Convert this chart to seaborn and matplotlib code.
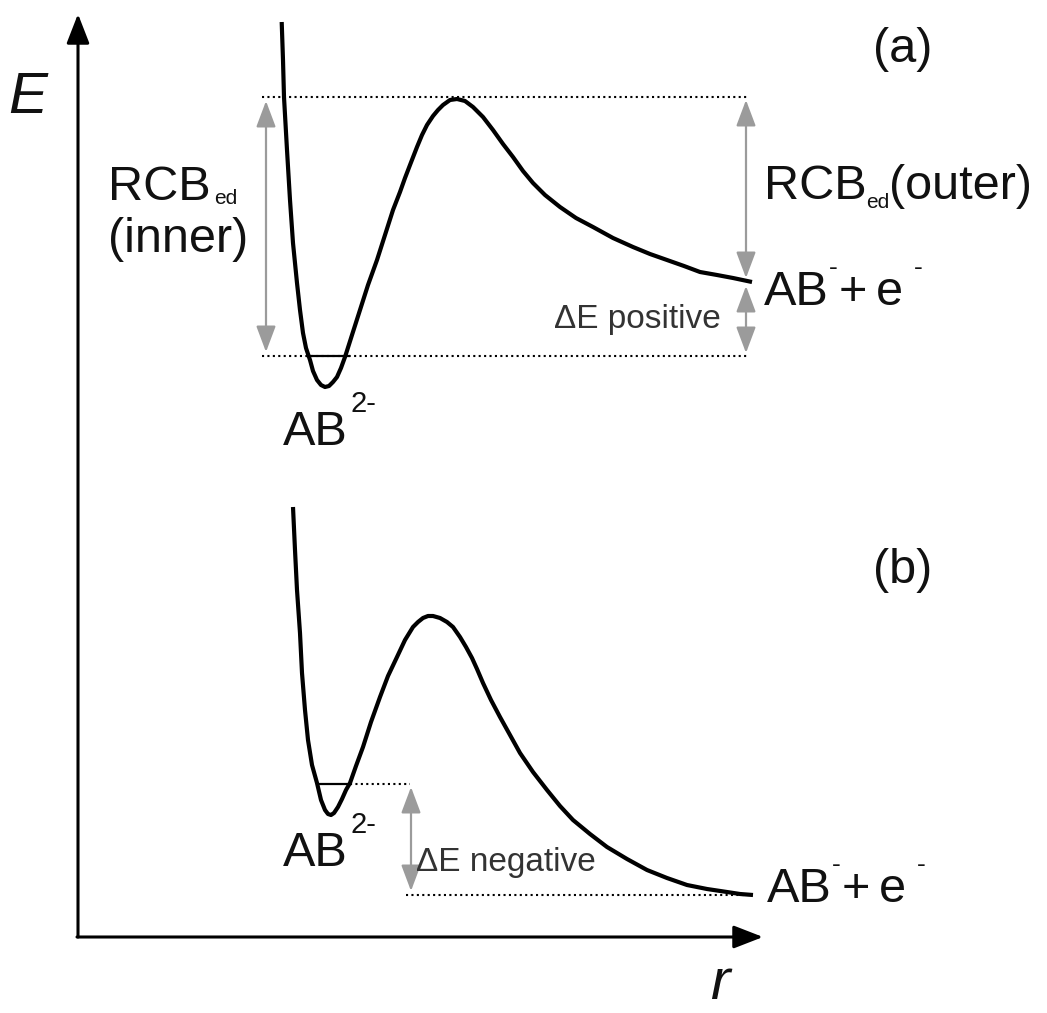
import numpy as np
import pandas as pd
import matplotlib
matplotlib.use("Agg")
import matplotlib.pyplot as plt
import seaborn as sns

# ---- potential-energy curves (r, E in drawing units; E grows upward) ----
H = 1013
r_a = [281.7, 283, 284, 287, 290, 293, 297, 300, 303, 306, 310, 313, 317, 321,
       325, 329, 333, 337, 341, 345, 352, 360, 368, 377, 385, 393, 400, 405,
       410, 417, 422, 427, 433, 438, 443, 450, 457, 465, 473, 483, 493, 503,
       513, 523, 533, 545, 560, 576, 593, 613, 633, 650, 667, 684, 700, 717,
       733, 752]
y_a = [22, 60, 97, 150, 200, 243, 283, 310, 333, 348, 360, 371, 380, 385,
       387, 386, 382, 377, 368, 357, 335, 310, 285, 260, 235, 210, 192, 178,
       165, 147, 135, 125, 116, 110, 105, 100, 99, 101, 107, 117, 130, 144,
       157, 171, 183, 195, 207, 218, 227, 238, 247, 254, 260, 266, 272, 275,
       278, 282]

r_b = [293, 295, 297, 300, 302, 305, 308, 312, 317, 321, 325, 328, 331, 334,
       338, 342, 346, 350, 356, 363, 371, 380, 388, 397, 405, 413, 418, 423,
       428, 433, 440, 447, 453, 460, 466, 472, 477, 483, 491, 500, 510, 520,
       533, 547, 560, 573, 590, 607, 627, 647, 667, 687, 707, 727, 740, 753]
y_b = [507, 550, 590, 633, 673, 710, 740, 765, 783, 800, 810, 814, 815, 813,
       807, 799, 790, 783, 766, 747, 722, 697, 676, 657, 640, 627, 622, 618,
       616, 616, 618, 622, 627, 637, 647, 658, 669, 683, 700, 717, 735, 753,
       772, 790, 806, 820, 834, 847, 859, 870, 878, 885, 889, 892, 894, 895]

# energy levels
level_a_top = 97      # barrier top (a)
level_a_well = 356    # vibrational level in the well (a)
level_a_asym = 282    # AB- + e- asymptote (a)
level_b_well = 784    # vibrational level in the well (b)
level_b_asym = 895    # AB- + e- asymptote (b)

E = lambda y: H - np.asarray(y, dtype=float)

curves = pd.concat([
    pd.DataFrame({"r": r_a, "E": E(y_a), "panel": "a"}),
    pd.DataFrame({"r": r_b, "E": E(y_b), "panel": "b"}),
])

sns.set_theme(style="white")
plt.rcParams["font.family"] = ["Liberation Sans", "DejaVu Sans"]

fig = plt.figure(figsize=(10.47, 10.13), dpi=100)
ax = fig.add_axes([0, 0, 1, 1])
ax.set_xlim(0, 1047)
ax.set_ylim(0, H)
ax.axis("off")

sns.lineplot(data=curves, x="r", y="E", units="panel", estimator=None,
             sort=False, color="black", lw=3.0, ax=ax, legend=False,
             solid_joinstyle="round", solid_capstyle="butt")

dot = dict(color="black", lw=1.5, linestyle=(0, (1, 1.6)))
solid = dict(color="black", lw=1.6, solid_capstyle="butt")

# panel (a) reference lines
ax.plot([262, 748], E([level_a_top] * 2), **dot)
ax.plot([262, 748], E([level_a_well] * 2), **dot)
ax.plot([306, 350], E([level_a_well] * 2), **solid)
# panel (b) reference lines
ax.plot([350, 410], E([level_b_well] * 2), **dot)
ax.plot([318, 352], E([level_b_well] * 2), **solid)
ax.plot([406, 750], E([level_b_asym] * 2), **dot)

gray = "#9b9b9b"
arrow = dict(arrowstyle="<|-|>,head_length=0.8,head_width=0.3",
             color=gray, lw=1.6, mutation_scale=20, shrinkA=0, shrinkB=0)

def span(x, y0, y1):
    ax.annotate("", xy=(x, E(y1)), xytext=(x, E(y0)), arrowprops=arrow)

span(266, level_a_top + 4, level_a_well - 4)
span(746, level_a_top + 3, level_a_asym - 4)
span(746, level_a_asym + 4, level_a_well - 3)
span(411, level_b_well + 3, level_b_asym - 4)

# coordinate axes
axis_arrow = dict(arrowstyle="-|>,head_length=0.9,head_width=0.35",
                  color="black", lw=2.2, mutation_scale=20, shrinkA=0, shrinkB=0)
ax.annotate("", xy=(78, E(14)), xytext=(78, E(937)), arrowprops=axis_arrow)
ax.annotate("", xy=(763, E(937)), xytext=(77, E(937)), arrowprops=axis_arrow)

big = 35
sub = 15
sup = 19
small = 24
txt = dict(color="#111111", va="baseline", ha="left")
ax.text(8, E(113), "E", fontsize=42, style="italic", **txt)
ax.text(710, E(999), "r", fontsize=42, style="italic", **txt)

# panel (a) labels
ax.text(873, E(62), "(a)", fontsize=big, **txt)
ax.text(108, E(200), "RCB", fontsize=big, **txt)
ax.text(214, E(204), "ed", fontsize=sub, **txt)
ax.text(108, E(252), "(inner)", fontsize=big, **txt)
ax.text(764, E(199), "RCB", fontsize=big, **txt)
ax.text(866, E(208), "ed", fontsize=sub, **txt)
ax.text(889, E(199), "(outer)", fontsize=big, **txt)
ax.text(764, E(305), "AB", fontsize=big, **txt)
ax.text(829, E(275), "-", fontsize=sup, **txt)
ax.text(839, E(305), "+", fontsize=big, **txt)
ax.text(876, E(305), "e", fontsize=big, **txt)
ax.text(914, E(275), "-", fontsize=sup, **txt)
ax.text(554, E(328), "\u0394E positive", fontsize=small, color="#333333",
        va="baseline", ha="left")
ax.text(283, E(445), "AB", fontsize=big, **txt)
ax.text(351, E(412), "2-", fontsize=21, **txt)

# panel (b) labels
ax.text(873, E(583), "(b)", fontsize=big, **txt)
ax.text(283, E(866), "AB", fontsize=big, **txt)
ax.text(351, E(833), "2-", fontsize=21, **txt)
ax.text(416, E(871), "\u0394E negative", fontsize=small, color="#333333",
        va="baseline", ha="left")
ax.text(767, E(902), "AB", fontsize=big, **txt)
ax.text(832, E(872), "-", fontsize=sup, **txt)
ax.text(842, E(902), "+", fontsize=big, **txt)
ax.text(879, E(902), "e", fontsize=big, **txt)
ax.text(917, E(872), "-", fontsize=sup, **txt)

fig.savefig("out.png", dpi=100, facecolor="white")
